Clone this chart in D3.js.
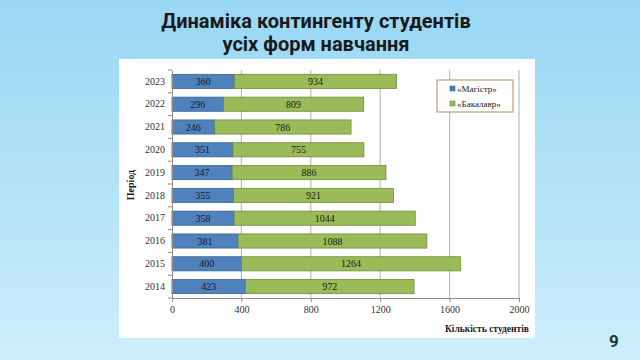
<!DOCTYPE html>
<html><head><meta charset="utf-8">
<script src="https://cdn.jsdelivr.net/npm/d3@7"></script>
<style>html,body{margin:0;padding:0;overflow:hidden;}</style>
</head><body>
<svg id="c" width="640" height="360"></svg>
<script>
const years = ["2014","2015","2016","2017","2018","2019","2020","2021","2022","2023"];
const magistr = [423,400,381,358,355,347,351,246,296,360];
const bakalavr = [972,1264,1088,1044,921,886,755,786,809,934];
const xTicks = [0,400,800,1200,1600,2000];
const seriesNames = ["«Магістр»","«Бакалавр»"];
const titleLines = ["Динаміка контингенту студентів","усіх форм навчання"];

const svg = d3.select("#c");
const defs = svg.append("defs");
const g = defs.append("linearGradient").attr("id","bg").attr("x1",0).attr("y1",0).attr("x2",0).attr("y2",1);
g.append("stop").attr("offset","0%").attr("stop-color","#98d7f3");
g.append("stop").attr("offset","100%").attr("stop-color","#cdeefb");
svg.append("rect").attr("width",640).attr("height",360).attr("fill","url(#bg)");

svg.selectAll("text.title").data(titleLines).enter().append("text")
  .attr("x",316).attr("y",(d,i)=>28+i*23).attr("text-anchor","middle")
  .attr("font-family","Roboto, sans-serif").attr("font-weight","bold").attr("font-size",20)
  .attr("fill","#1a1a1a").text(d=>d);

svg.append("rect").attr("x",119).attr("y",59).attr("width",416).attr("height",279).attr("fill","#ffffff");

const x = d3.scaleLinear().domain([0,2000]).range([172,519]);
const y = d3.scaleBand().domain(years.slice().reverse()).range([70,298]).paddingInner(0.38).paddingOuter(0.19);

// gridlines
svg.append("g").selectAll("line").data(xTicks.slice(1)).enter().append("line")
  .attr("x1",d=>x(d)).attr("x2",d=>x(d)).attr("y1",70).attr("y2",298)
  .attr("stroke","#bdbdbd").attr("stroke-width",1.2);

const stack = years.map((yr,i)=>({yr, m:magistr[i], b:bakalavr[i]}));
const bars = svg.append("g");
bars.selectAll("rect.m").data(stack).enter().append("rect")
  .attr("x",x(0)).attr("y",d=>y(d.yr)).attr("width",d=>x(d.m)-x(0)).attr("height",y.bandwidth())
  .attr("fill","#4f81bd").attr("stroke","#3a6394").attr("stroke-width",0.8);
bars.selectAll("rect.b").data(stack).enter().append("rect")
  .attr("x",d=>x(d.m)).attr("y",d=>y(d.yr)).attr("width",d=>x(d.m+d.b)-x(d.m)).attr("height",y.bandwidth())
  .attr("fill","#9bbb59").attr("stroke","#6f8a3c").attr("stroke-width",0.8);
bars.selectAll("text.m").data(stack).enter().append("text")
  .attr("x",d=>(x(0)+x(d.m))/2).attr("y",d=>y(d.yr)+y.bandwidth()/2+3.5).attr("text-anchor","middle")
  .attr("font-family","Liberation Serif, serif").attr("font-size",10).attr("fill","#1a1a1a").text(d=>d.m);
bars.selectAll("text.b").data(stack).enter().append("text")
  .attr("x",d=>(x(d.m)+x(d.m+d.b))/2).attr("y",d=>y(d.yr)+y.bandwidth()/2+3.5).attr("text-anchor","middle")
  .attr("font-family","Liberation Serif, serif").attr("font-size",10).attr("fill","#1a1a1a").text(d=>d.b);

// axes
const xAxis = d3.axisBottom(x).tickValues(xTicks).tickFormat(d3.format("d")).tickSize(4).tickSizeOuter(0).tickPadding(4);
const xg = svg.append("g").attr("transform","translate(0,298)").call(xAxis);
xg.select(".domain").attr("stroke","#8c8c8c");
xg.selectAll(".tick line").attr("stroke","#8c8c8c");
xg.selectAll("text").attr("font-family","Liberation Serif, serif").attr("font-size",10).attr("fill","#333");

const yAxis = d3.axisLeft(y).tickSize(0).tickPadding(7);
const yg = svg.append("g").attr("transform","translate(172,0)").call(yAxis);
yg.select(".domain").attr("stroke","#8c8c8c");
yg.selectAll("text").attr("font-family","Liberation Serif, serif").attr("font-size",10).attr("fill","#333");
// band boundary ticks
const bounds = d3.range(years.length+1).map(i=>70+i*(228/years.length));
yg.selectAll("line.bt").data(bounds).enter().append("line").attr("class","bt")
  .attr("x1",-4).attr("x2",0).attr("y1",d=>d).attr("y2",d=>d).attr("stroke","#8c8c8c");

svg.append("text").attr("transform","translate(134,185) rotate(-90)").attr("text-anchor","middle")
  .attr("font-family","Liberation Serif, serif").attr("font-weight","bold").attr("font-size",10).attr("fill","#1a1a1a").text("Період");
svg.append("text").attr("x",529).attr("y",332).attr("text-anchor","end")
  .attr("font-family","Liberation Serif, serif").attr("font-weight","bold").attr("font-size",9.5).attr("fill","#1a1a1a").text("Кількість студентів");

// legend
const lg = svg.append("g");
lg.append("rect").attr("x",437).attr("y",80).attr("width",76).attr("height",32).attr("fill","#fff").attr("stroke","#b5865a").attr("stroke-width",1);
const colors = ["#4f81bd","#9bbb59"], strokes=["#3a6394","#6f8a3c"];
seriesNames.forEach((n,i)=>{
  lg.append("rect").attr("x",450).attr("y",86+i*15).attr("width",5).attr("height",5).attr("fill",colors[i]).attr("stroke",strokes[i]).attr("stroke-width",0.6);
  lg.append("text").attr("x",457).attr("y",91.5+i*15).attr("font-family","Liberation Serif, serif").attr("font-size",9).attr("fill","#1a1a1a").text(n);
});

svg.append("text").attr("x",614).attr("y",347).attr("text-anchor","middle")
  .attr("font-family","Roboto, sans-serif").attr("font-weight","bold").attr("font-size",17).attr("fill","#1d3b2c").text("9");
</script>
</body></html>
